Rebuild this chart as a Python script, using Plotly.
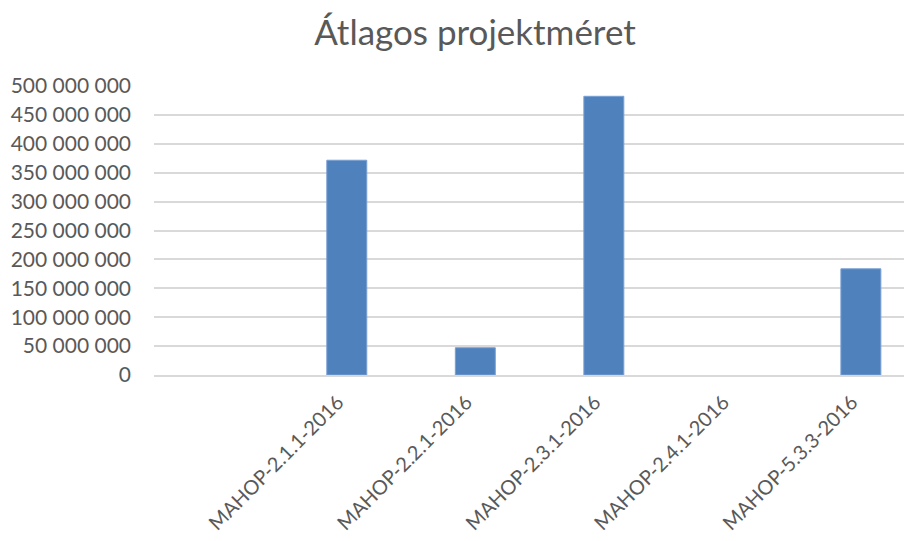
import plotly.graph_objects as go

categories = ["", "MAHOP-2.1.1-2016", "MAHOP-2.2.1-2016", "MAHOP-2.3.1-2016",
              "MAHOP-2.4.1-2016", "MAHOP-5.3.3-2016"]
values = [None, 371_600_000, 47_200_000, 482_200_000, None, 183_700_000]
y_ticks = [0, 50_000_000, 100_000_000, 150_000_000, 200_000_000, 250_000_000,
           300_000_000, 350_000_000, 400_000_000, 450_000_000, 500_000_000]

xpos = list(range(len(categories)))

fig = go.Figure()
fig.add_trace(go.Bar(
    x=xpos, y=values, width=0.311,
    marker=dict(color="#4f81bd", line=dict(color="#7aa0d4", width=1)),
    hoverinfo="skip",
))

font_family = "Lato, 'Open Sans', sans-serif"
fig.update_layout(
    width=912, height=541,
    margin=dict(l=146, r=0, t=78, b=174, autoexpand=False),
    paper_bgcolor="white", plot_bgcolor="white",
    separators=". ",
    showlegend=False,
    title=dict(text="Átlagos projektméret", x=467 / 912, xref="container", xanchor="center",
               y=1 - 25 / 541, yref="container", yanchor="middle",
               font=dict(family=font_family, size=35, color="#595959")),
    font=dict(family=font_family, color="#595959", size=20),
)
fig.update_xaxes(
    range=[-0.5, 5.46], automargin=False,
    tickmode="array", tickvals=xpos[1:], ticktext=categories[1:],
    tickangle=-45, showgrid=False, zeroline=False,
    showline=True, linecolor="#d9d9d9", linewidth=1.5,
    ticks="", tickfont=dict(size=20, color="#595959"),
    ticklabelstandoff=6, ticklabelshift=-9,
)
fig.update_yaxes(
    range=[0, 500_000_000], automargin=False,
    tickmode="array", tickvals=y_ticks, tickformat=",d",
    showgrid=True, gridcolor="#d9d9d9", gridwidth=1.5,
    zeroline=False, showline=False, ticks="",
    ticklabelstandoff=22,
    tickfont=dict(size=21, color="#595959"),
)

fig.write_html("out.html")
